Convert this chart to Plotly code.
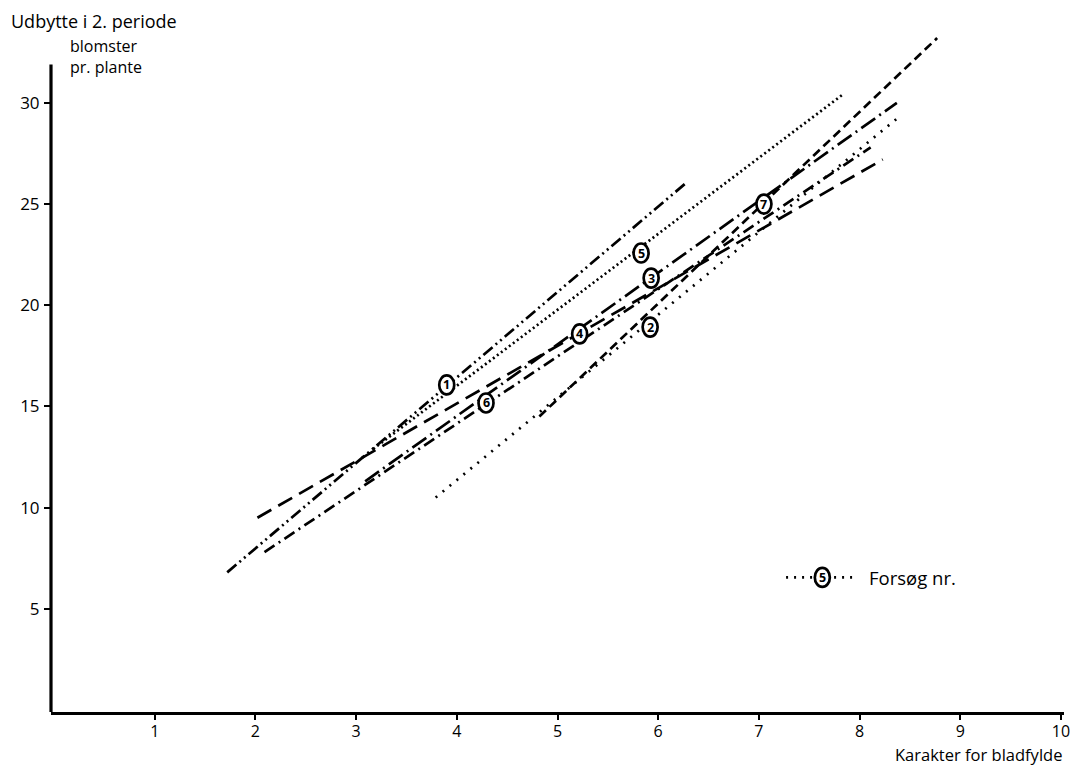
import plotly.graph_objects as go

# Data: start and end of each regression line (x = Karakter, y = blomster pr. plante)
line_ids = ["1", "2", "3", "4", "5", "6", "7"]
x_start = [1.72, 3.79, 3.09, 2.02, 3.17, 2.09, 4.82]
y_start = [6.8, 10.5, 11.3, 9.5, 12.9, 7.8, 14.5]
x_end = [6.29, 8.39, 8.37, 8.23, 7.83, 8.11, 8.77]
y_end = [26.1, 29.3, 30.0, 27.2, 30.4, 27.8, 33.2]

# Circled number positions
label_x = [3.90, 5.92, 5.93, 5.22, 5.83, 4.29, 7.05]
label_y = [16.06, 18.92, 21.34, 18.58, 22.58, 15.17, 25.0]

line_dash = {
    "1": "12px,4px,2px,4px,2px,4px",
    "2": "2px,7px",
    "3": "17px,5px,2px,5px",
    "4": "16px,8px",
    "5": "2px,3px",
    "6": "12px,5px,2px,5px",
    "7": "9px,5px",
}

x_ticks = [1, 2, 3, 4, 5, 6, 7, 8, 9, 10]
y_ticks = [5, 10, 15, 20, 25, 30]

# Legend key
legend_x = [7.27, 7.98]
legend_y = [6.55, 6.55]
legend_circle = (7.63, 6.55)
legend_text_x = 8.07

FONT = "Open Sans"
INK = "black"

fig = go.Figure()

for i, lid in enumerate(line_ids):
    fig.add_trace(go.Scatter(
        x=[x_start[i], x_end[i]], y=[y_start[i], y_end[i]],
        mode="lines", line=dict(color=INK, width=2.7, dash=line_dash[lid]),
        showlegend=False, hoverinfo="skip"))

fig.add_trace(go.Scatter(
    x=legend_x, y=legend_y, mode="lines",
    line=dict(color=INK, width=2.7, dash="2px,6px"),
    showlegend=False, hoverinfo="skip"))

shapes = []
annotations = []
circles = list(zip(label_x, label_y, line_ids)) + [(legend_circle[0], legend_circle[1], "5")]
for cx, cy, txt in circles:
    shapes.append(dict(type="circle", xref="x", yref="y", xsizemode="pixel", ysizemode="pixel",
                       xanchor=cx, yanchor=cy, x0=-7.5, x1=7.5, y0=-9.5, y1=9.5,
                       line=dict(color=INK, width=2.7), fillcolor="white", layer="above"))
    annotations.append(dict(x=cx, y=cy, xref="x", yref="y", text="<b>%s</b>" % txt, showarrow=False,
                            font=dict(family=FONT, size=12.5, color=INK)))

# y-axis line (stops below the top of the drawing area)
shapes.append(dict(type="line", xref="paper", yref="y", x0=0, x1=0, y0=-0.1, y1=31.9,
                   line=dict(color=INK, width=3.2), layer="above"))

annotations += [
    dict(xref="paper", yref="paper", x=-0.041, y=1.0132, xanchor="left", yanchor="middle",
         text="Udbytte i 2. periode", showarrow=False, font=dict(family=FONT, size=18, color=INK)),
    dict(xref="paper", yref="paper", x=0.0167, y=0.9956, xanchor="left", yanchor="top", align="left",
         text="blomster<br>pr. plante", showarrow=False, font=dict(family=FONT, size=16, color=INK)),
    dict(xref="paper", yref="paper", x=1.0, y=-0.063, xanchor="right", yanchor="middle",
         text="Karakter for bladfylde", showarrow=False, font=dict(family=FONT, size=16.5, color=INK)),
    dict(x=legend_text_x, y=legend_y[0], xref="x", yref="y", xanchor="left", yanchor="middle",
         text="Forsøg nr.", showarrow=False, font=dict(family=FONT, size=18.5, color=INK)),
]

fig.update_layout(
    width=1081, height=759,
    margin=dict(l=37, r=25, t=22, b=55),
    plot_bgcolor="white", paper_bgcolor="white",
    shapes=shapes, annotations=annotations,
    font=dict(family=FONT, size=17, color=INK),
    xaxis=dict(range=[-0.03, 10.03], tickvals=x_ticks, ticktext=[str(v) for v in x_ticks],
               showgrid=False, zeroline=False, showline=True, linecolor=INK, linewidth=3.2,
               ticks="outside", ticklen=5, tickwidth=2, tickcolor=INK, ticklabelstandoff=-2,
               tickfont=dict(family=FONT, size=16, color=INK)),
    yaxis=dict(range=[-0.1, 33.6], tickvals=y_ticks, ticktext=[str(v) for v in y_ticks],
               showgrid=False, zeroline=False, showline=False,
               ticks="outside", ticklen=6, tickwidth=2, tickcolor=INK, ticklabelstandoff=1,
               tickfont=dict(family=FONT, size=17, color=INK)),
)

fig.write_html("out.html")
